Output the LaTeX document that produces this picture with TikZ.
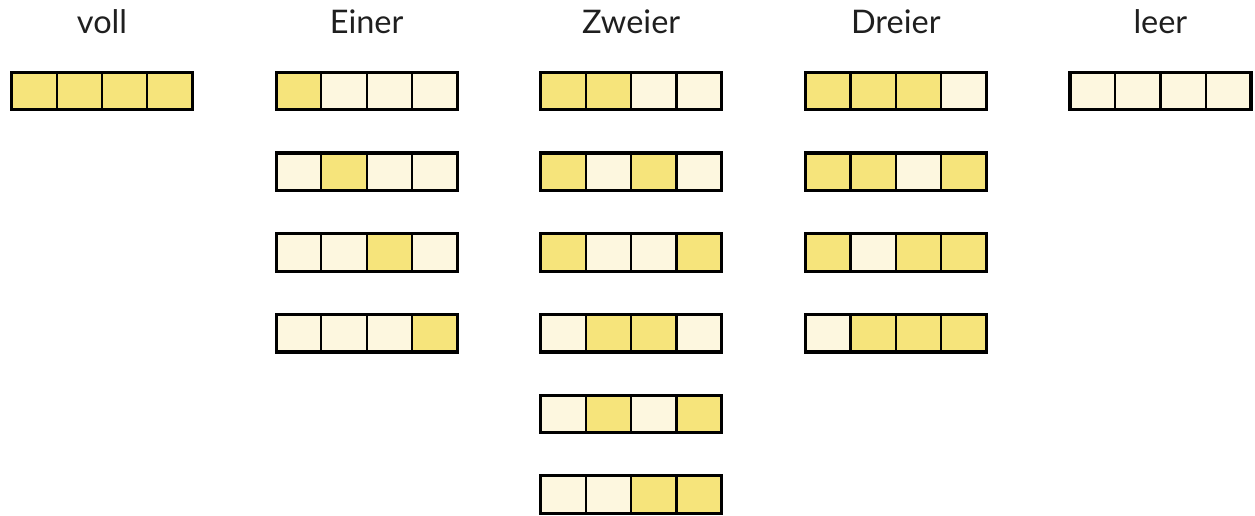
\documentclass[tikz,border=0pt]{standalone}
\usepackage{fontspec}
\setmainfont{Lato}
\definecolor{ful}{HTML}{F6E47B}
\definecolor{emp}{HTML}{FDF7DF}
\tikzset{
  cell/.style={draw=black, line width=2.2pt, minimum width=45.25pt, minimum height=37.5pt,
    inner sep=0pt, outer sep=0pt, anchor=north west},
  frame/.style={draw=black, line width=3.2pt},
  head/.style={font=\fontsize{32.5}{38}\selectfont, text=black!88, anchor=base}
}
% one row of four cells: name, left x, top y, fill colours
\newcommand\cellrow[4]{%
  \foreach \c [count=\i from 0] in {#4} {
    \node[cell, fill=\c] (#1-\i) at ({#2+\i*45.25},{#3}) {};
  }
  \draw[frame] (#1-0.north west) rectangle (#1-3.south east);
}
\begin{document}
\begin{tikzpicture}[x=1pt, y=-1pt]
\useasboundingbox (0,0) rectangle (1255,515);
\def\colA{11.5}
\def\colB{276.1}
\def\colC{540.7}
\def\colD{805.3}
\def\colE{1069.9}
\def\rowgap{80.7}
\def\toprow{72.3}

% headings
\node[head] (h-voll)   at ({\colA+90.5},33) {voll};
\node[head] (h-einer)  at ({\colB+90.5},33) {Einer};
\node[head] (h-zweier) at ({\colC+90.5},33) {Zweier};
\node[head] (h-dreier) at ({\colD+90.5},33) {Dreier};
\node[head] (h-leer)   at ({\colE+90.5},33) {leer};

% all four
\cellrow{voll}{\colA}{\toprow}{ful,ful,ful,ful}

% one
\cellrow{einer1}{\colB}{\toprow}{ful,emp,emp,emp}
\cellrow{einer2}{\colB}{\toprow+\rowgap}{emp,ful,emp,emp}
\cellrow{einer3}{\colB}{\toprow+2*\rowgap}{emp,emp,ful,emp}
\cellrow{einer4}{\colB}{\toprow+3*\rowgap}{emp,emp,emp,ful}

% two
\cellrow{zweier1}{\colC}{\toprow}{ful,ful,emp,emp}
\cellrow{zweier2}{\colC}{\toprow+\rowgap}{ful,emp,ful,emp}
\cellrow{zweier3}{\colC}{\toprow+2*\rowgap}{ful,emp,emp,ful}
\cellrow{zweier4}{\colC}{\toprow+3*\rowgap}{emp,ful,ful,emp}
\cellrow{zweier5}{\colC}{\toprow+4*\rowgap}{emp,ful,emp,ful}
\cellrow{zweier6}{\colC}{\toprow+5*\rowgap}{emp,emp,ful,ful}

% three
\cellrow{dreier1}{\colD}{\toprow}{ful,ful,ful,emp}
\cellrow{dreier2}{\colD}{\toprow+\rowgap}{ful,ful,emp,ful}
\cellrow{dreier3}{\colD}{\toprow+2*\rowgap}{ful,emp,ful,ful}
\cellrow{dreier4}{\colD}{\toprow+3*\rowgap}{emp,ful,ful,ful}

% none
\cellrow{leer}{\colE}{\toprow}{emp,emp,emp,emp}
\end{tikzpicture}
\end{document}
